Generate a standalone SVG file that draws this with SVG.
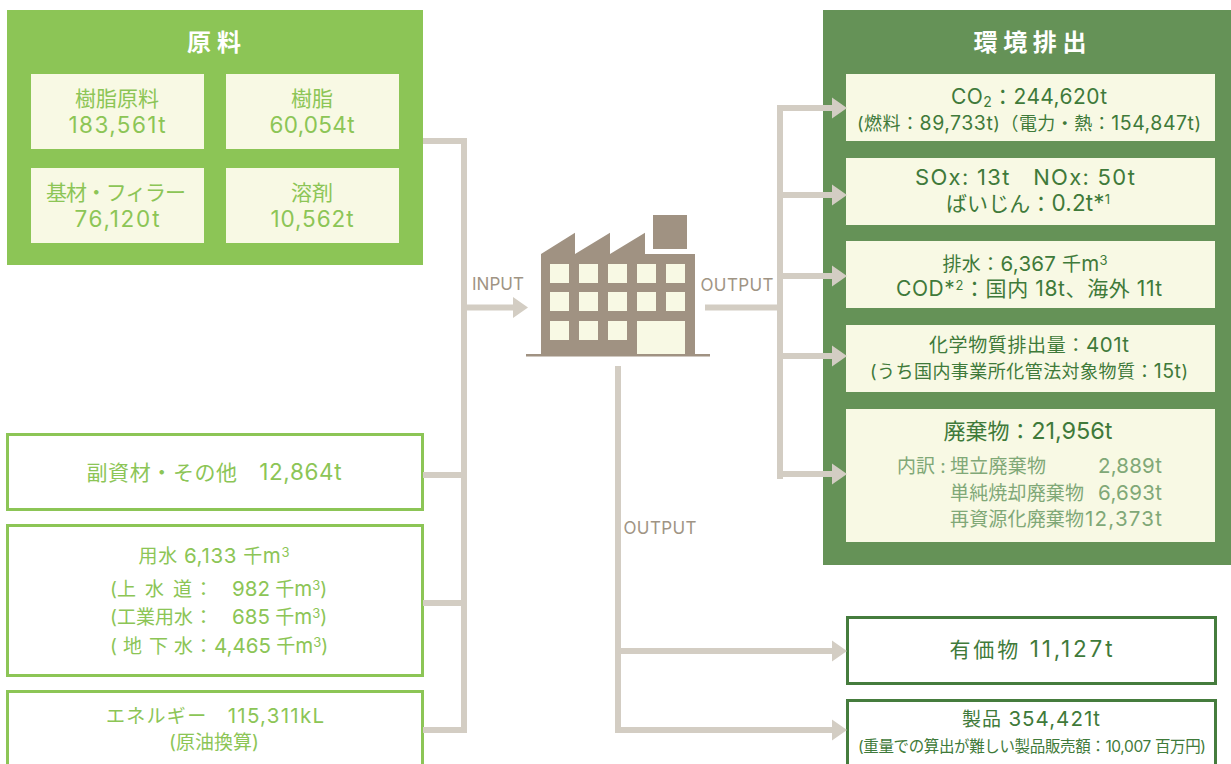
<svg xmlns="http://www.w3.org/2000/svg" width="1231" height="764" viewBox="0 0 1231 764">
<style>
text{font-family:"Inter","Noto Sans CJK JP",sans-serif;text-anchor:middle;font-weight:400}
.l{text-anchor:start}
.lg{fill:#8cc556}
.dg{fill:#3f7a3a}
.sg{fill:#80a877}
.ti{fill:#fff;font-weight:700;font-size:24px}
.br{fill:#a09484;font-size:17px}
.pale{fill:#f8f9e4}
.ob{fill:#fff;stroke:#8cc556;stroke-width:3}
.od{fill:#fff;stroke:#457c3d;stroke-width:3}
.c{fill:#d3cdc3}
.f{fill:#a09282}
.n22{font-size:22.500px}
.n20{font-size:20.500px}
.n23{font-size:23.500px}
.n19{font-size:19.500px}
</style>
<defs>
<path id="ah" d="M0-10.500L15 0 0 10.500Z"/>
</defs>
<g id="labels">
<text class="br" x="498" y="290" textLength="52">INPUT</text>
<text class="br" x="737" y="291" textLength="73">OUTPUT</text>
<text class="br" x="660" y="534" textLength="73">OUTPUT</text>
</g>
<g id="factory">
<path class="f" d="M541 254L575 232.700V254L610 232.700V254L645 232.700V254H695V355H541Z"/>
<rect class="f" x="653" y="215" width="34" height="34"/>
<rect class="f" x="526" y="354" width="184" height="2.500"/>
<g class="pale">
<rect x="550" y="264" width="19" height="19"/><rect x="579" y="264" width="19" height="19"/><rect x="608" y="264" width="19" height="19"/><rect x="637" y="264" width="19" height="19"/><rect x="666" y="264" width="19" height="19"/>
<rect x="550" y="292" width="19" height="19"/><rect x="579" y="292" width="19" height="19"/><rect x="608" y="292" width="19" height="19"/><rect x="637" y="292" width="19" height="19"/><rect x="666" y="292" width="19" height="19"/>
<rect x="550" y="321" width="19" height="19"/><rect x="579" y="321" width="19" height="19"/><rect x="608" y="321" width="19" height="19"/><rect x="637" y="321" width="48" height="33"/>
</g>
</g>
<g id="raw-materials">
<rect x="7" y="10" width="416" height="255" fill="#8cc556"/>
<text class="ti" x="214" y="51" textLength="54">原料</text>
<g class="pale"><rect x="31" y="74" width="173" height="75"/><rect x="226" y="74" width="173" height="75"/><rect x="31" y="168" width="173" height="75"/><rect x="226" y="168" width="173" height="75"/></g>
<g class="lg" font-size="21">
<text x="117" y="106" textLength="84">樹脂原料</text><text class="n22" x="117" y="133" textLength="97">183,561t</text>
<text x="312" y="106" textLength="42">樹脂</text><text class="n22" x="312" y="133" textLength="85">60,054t</text>
<text x="116" y="200" textLength="140">基材・フィラー</text><text class="n22" x="117" y="227" textLength="85">76,120t</text>
<text x="312" y="200" textLength="42">溶剤</text><text class="n22" x="312" y="227" textLength="83">10,562t</text>
</g>
</g>
<g id="sub-materials">
<rect class="ob" x="7.500" y="434.500" width="415" height="75"/>
<text class="lg" x="214" y="480" font-size="21" textLength="255">副資材・その他　<tspan class="n22">12,864t</tspan></text>
</g>
<g id="water" class="lg" font-size="19">
<rect class="ob" x="7.500" y="525.500" width="415" height="150"/>
<text x="214" y="563" textLength="151">用水 <tspan class="n20">6,133</tspan> 千<tspan class="n20">m</tspan><tspan font-size="13" dy="-6">3</tspan></text>
<text class="l" x="110" y="596">(上<tspan x="145">水</tspan><tspan x="173">道</tspan><tspan x="194">：</tspan><tspan x="232" class="n20">982</tspan> 千<tspan class="n20">m</tspan><tspan font-size="13" dy="-6">3</tspan><tspan dy="6">)</tspan></text>
<text class="l" x="110" y="624">(工業用水<tspan x="194">：</tspan><tspan x="232" class="n20">685</tspan> 千<tspan class="n20">m</tspan><tspan font-size="13" dy="-6">3</tspan><tspan dy="6">)</tspan></text>
<text class="l" x="110" y="653">(<tspan x="123">地</tspan><tspan x="149">下</tspan><tspan x="174">水</tspan><tspan x="194">：</tspan><tspan x="214" class="n20">4,465</tspan> 千<tspan class="n20">m</tspan><tspan font-size="13" dy="-6">3</tspan><tspan dy="6">)</tspan></text>
</g>
<g id="energy" class="lg" font-size="19">
<rect class="ob" x="7.500" y="691.500" width="415" height="80"/>
<text x="215" y="723" textLength="218">エネルギー　<tspan class="n20">115,311kL</tspan></text>
<text x="214" y="749" textLength="90">(原油換算)</text>
</g>
<g id="emissions">
<rect x="823" y="10" width="408" height="555" fill="#659257"/>
<text class="ti" x="1030" y="51" textLength="113">環境排出</text>
<g class="pale"><rect x="846" y="74" width="369" height="67"/><rect x="846" y="158" width="369" height="67"/><rect x="846" y="241" width="369" height="67"/><rect x="846" y="325" width="369" height="67"/><rect x="846" y="409" width="369" height="133"/></g>
<g class="dg">
<text x="1029" y="104" font-size="21" textLength="156">CO<tspan font-size="14" dy="3">2</tspan><tspan dy="-3">：244,620t</tspan></text>
<text x="1029" y="130" font-size="18" textLength="344">(燃料：<tspan class="n19">89,733t</tspan>)（電力・熱：<tspan class="n19">154,847t</tspan>)</text>
<text x="1025" y="185" font-size="22" textLength="220" xml:space="preserve">SOx: 13t   NOx: 50t</text>
<text x="1028" y="211" font-size="21" textLength="164">ばいじん：<tspan class="n22">0.2t*</tspan><tspan font-size="13" dy="-7">1</tspan></text>
<text x="1025" y="271" font-size="19" textLength="165">排水：<tspan class="n20">6,367</tspan> 千<tspan class="n20">m</tspan><tspan font-size="13" dy="-6">3</tspan></text>
<text x="1029" y="296" font-size="21" textLength="266">COD*<tspan font-size="13" dy="-6">2</tspan><tspan dy="6">：国内 18t、海外 11t</tspan></text>
<text x="1029" y="352" font-size="19" textLength="200">化学物質排出量：<tspan class="n20">401t</tspan></text>
<text x="1029" y="378" font-size="18" textLength="318">(うち国内事業所化管法対象物質：<tspan class="n19">15t</tspan>)</text>
<text x="1028" y="439" font-size="22" textLength="169">廃棄物：<tspan class="n23">21,956t</tspan></text>
</g>
<g class="sg" font-size="19">
<text class="l" x="897" y="473">内訳 :</text>
<text class="l" x="950" y="473" textLength="96">埋立廃棄物</text>
<text class="l" x="950" y="500" textLength="134">単純焼却廃棄物</text>
<text class="l" x="950" y="526" textLength="134">再資源化廃棄物</text>
<text class="l n20" x="1098" y="473" textLength="64">2,889t</text>
<text class="l n20" x="1098" y="500" textLength="64">6,693t</text>
<text class="l n20" x="1085" y="526" textLength="77">12,373t</text>
</g>
</g>
<g id="valuables">
<rect class="od" x="847.500" y="617.500" width="368" height="66"/>
<text class="dg" x="1031" y="657" font-size="21" textLength="163">有価物 <tspan class="n22">11,127t</tspan></text>
</g>
<g id="products">
<rect class="od" x="847.500" y="700.500" width="368" height="72"/>
<text class="dg" x="1031" y="726" font-size="19" textLength="138">製品 <tspan class="n20">354,421t</tspan></text>
<text class="dg" x="1032" y="752" font-size="15.500" textLength="348">(重量での算出が難しい製品販売額：10,007 百万円)</text>
</g>
<g id="connectors" class="c">
<rect x="423" y="138" width="44" height="6"/>
<rect x="461" y="138" width="6" height="595"/>
<rect x="423" y="472" width="40" height="6"/>
<rect x="423" y="600" width="40" height="6"/>
<rect x="423" y="727" width="44" height="6"/>
<rect x="461" y="304.500" width="54" height="6"/>
<path d="M513 297L528 307.500 513 318Z"/>
<rect x="705" y="304.500" width="75" height="6"/>
<rect x="777" y="105" width="6" height="374"/>
<rect x="777" y="105" width="56" height="6"/><use href="#ah" x="832" y="108"/>
<rect x="777" y="192" width="56" height="6"/><use href="#ah" x="832" y="195"/>
<rect x="777" y="273" width="56" height="6"/><use href="#ah" x="832" y="276"/>
<rect x="777" y="353" width="56" height="6"/><use href="#ah" x="832" y="356"/>
<rect x="777" y="471" width="56" height="6"/><use href="#ah" x="832" y="474"/>
<rect x="615" y="366" width="6" height="367"/>
<rect x="615" y="648" width="218" height="6"/><use href="#ah" x="832" y="651"/>
<rect x="615" y="727" width="218" height="6"/><use href="#ah" x="832" y="730"/>
</g>
</svg>
